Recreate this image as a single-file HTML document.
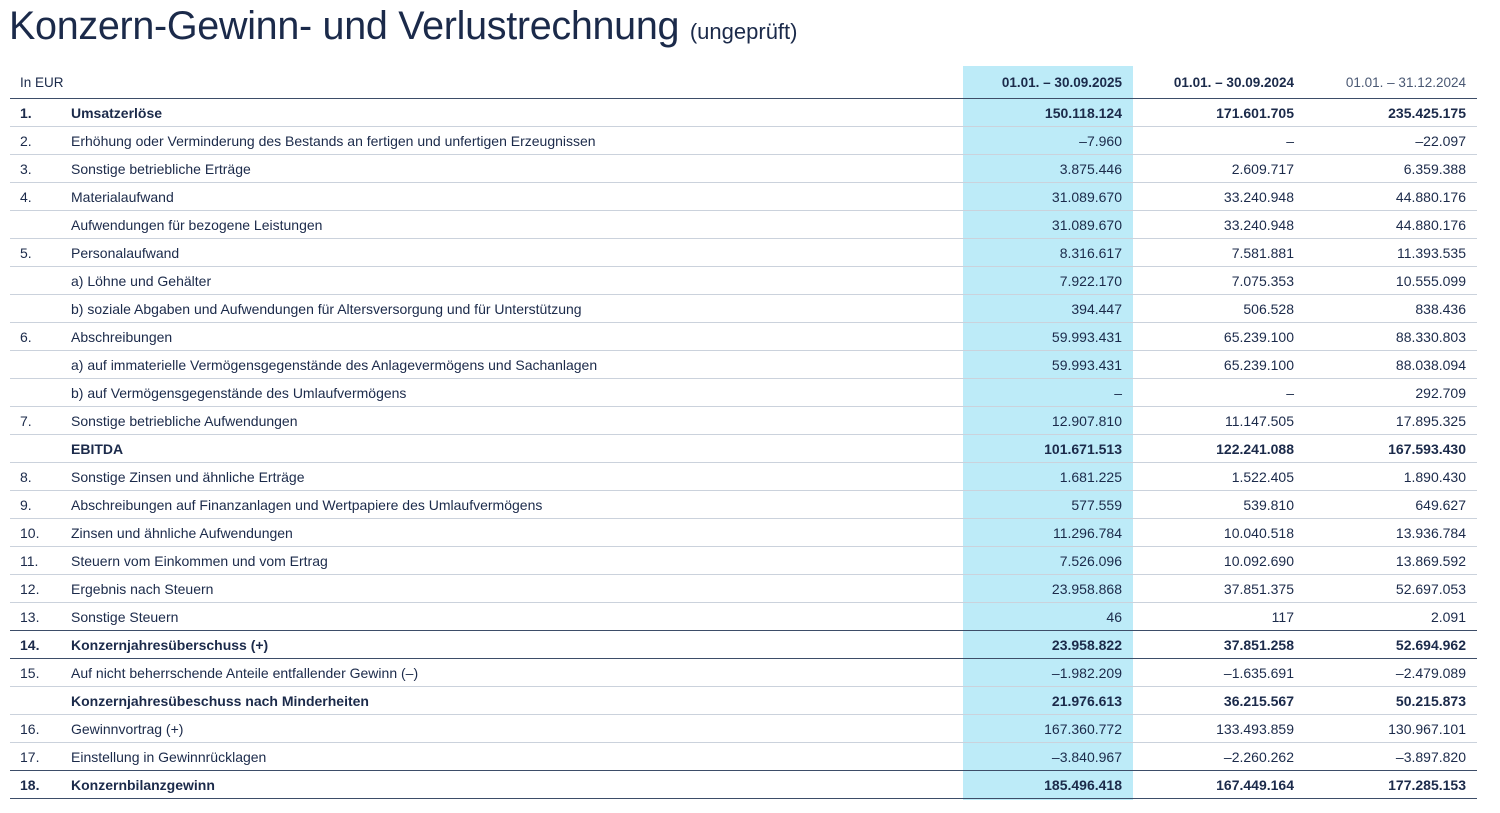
<!DOCTYPE html>
<html><head><meta charset="utf-8"><style>
body{margin:0;background:#fff;width:1500px;height:813px;overflow:hidden;font-family:"Liberation Sans",sans-serif;color:#1b2a4a}
.t{position:absolute;left:9px;top:4px;font-size:39.5px;white-space:nowrap;letter-spacing:-0.3px}
.t span{font-size:22px;letter-spacing:0}
.hl{position:absolute;left:963px;top:66px;width:170px;height:734px;background:#bdebf8}
table{position:absolute;left:10px;top:66px;width:1467px;border-collapse:collapse;font-size:14px;table-layout:fixed}
td{height:27px;border-bottom:1px solid #cbd2dc;padding:0;white-space:nowrap}
td.n{padding-left:10px}
td.v{text-align:right;padding-right:11px}
tr.h td{height:32px;border-bottom:1.5px solid #3d4d68;font-size:13.5px}
tr.b td{font-weight:bold}
tr.d td{border-bottom:1.5px solid #3d4d68}
</style></head><body>
<div class="t">Konzern-Gewinn- und Verlustrechnung <span>(ungeprüft)</span></div>
<div class="hl"></div>
<table>
<colgroup><col style="width:61px"><col style="width:892px"><col style="width:170px"><col style="width:172px"><col style="width:172px"></colgroup>
<tr class="h"><td class="n">In EUR</td><td></td><td class="v" style="font-weight:bold">01.01. – 30.09.2025</td><td class="v" style="font-weight:bold">01.01. – 30.09.2024</td><td class="v" style="color:#4a5873">01.01. – 31.12.2024</td></tr>
<tr class="b"><td class="n">1.</td><td>Umsatzerlöse</td><td class="v">150.118.124</td><td class="v">171.601.705</td><td class="v">235.425.175</td></tr>
<tr><td class="n">2.</td><td>Erhöhung oder Verminderung des Bestands an fertigen und unfertigen Erzeugnissen</td><td class="v">–7.960</td><td class="v">–</td><td class="v">–22.097</td></tr>
<tr><td class="n">3.</td><td>Sonstige betriebliche Erträge</td><td class="v">3.875.446</td><td class="v">2.609.717</td><td class="v">6.359.388</td></tr>
<tr><td class="n">4.</td><td>Materialaufwand</td><td class="v">31.089.670</td><td class="v">33.240.948</td><td class="v">44.880.176</td></tr>
<tr><td class="n"></td><td>Aufwendungen für bezogene Leistungen</td><td class="v">31.089.670</td><td class="v">33.240.948</td><td class="v">44.880.176</td></tr>
<tr><td class="n">5.</td><td>Personalaufwand</td><td class="v">8.316.617</td><td class="v">7.581.881</td><td class="v">11.393.535</td></tr>
<tr><td class="n"></td><td>a) Löhne und Gehälter</td><td class="v">7.922.170</td><td class="v">7.075.353</td><td class="v">10.555.099</td></tr>
<tr><td class="n"></td><td>b) soziale Abgaben und Aufwendungen für Altersversorgung und für Unterstützung</td><td class="v">394.447</td><td class="v">506.528</td><td class="v">838.436</td></tr>
<tr><td class="n">6.</td><td>Abschreibungen</td><td class="v">59.993.431</td><td class="v">65.239.100</td><td class="v">88.330.803</td></tr>
<tr><td class="n"></td><td>a) auf immaterielle Vermögensgegenstände des Anlagevermögens und Sachanlagen</td><td class="v">59.993.431</td><td class="v">65.239.100</td><td class="v">88.038.094</td></tr>
<tr><td class="n"></td><td>b) auf Vermögensgegenstände des Umlaufvermögens</td><td class="v">–</td><td class="v">–</td><td class="v">292.709</td></tr>
<tr><td class="n">7.</td><td>Sonstige betriebliche Aufwendungen</td><td class="v">12.907.810</td><td class="v">11.147.505</td><td class="v">17.895.325</td></tr>
<tr class="b"><td class="n"></td><td>EBITDA</td><td class="v">101.671.513</td><td class="v">122.241.088</td><td class="v">167.593.430</td></tr>
<tr><td class="n">8.</td><td>Sonstige Zinsen und ähnliche Erträge</td><td class="v">1.681.225</td><td class="v">1.522.405</td><td class="v">1.890.430</td></tr>
<tr><td class="n">9.</td><td>Abschreibungen auf Finanzanlagen und Wertpapiere des Umlaufvermögens</td><td class="v">577.559</td><td class="v">539.810</td><td class="v">649.627</td></tr>
<tr><td class="n">10.</td><td>Zinsen und ähnliche Aufwendungen</td><td class="v">11.296.784</td><td class="v">10.040.518</td><td class="v">13.936.784</td></tr>
<tr><td class="n">11.</td><td>Steuern vom Einkommen und vom Ertrag</td><td class="v">7.526.096</td><td class="v">10.092.690</td><td class="v">13.869.592</td></tr>
<tr><td class="n">12.</td><td>Ergebnis nach Steuern</td><td class="v">23.958.868</td><td class="v">37.851.375</td><td class="v">52.697.053</td></tr>
<tr class="d"><td class="n">13.</td><td>Sonstige Steuern</td><td class="v">46</td><td class="v">117</td><td class="v">2.091</td></tr>
<tr class="b d"><td class="n">14.</td><td>Konzernjahresüberschuss (+)</td><td class="v">23.958.822</td><td class="v">37.851.258</td><td class="v">52.694.962</td></tr>
<tr><td class="n">15.</td><td>Auf nicht beherrschende Anteile entfallender Gewinn (–)</td><td class="v">–1.982.209</td><td class="v">–1.635.691</td><td class="v">–2.479.089</td></tr>
<tr class="b"><td class="n"></td><td>Konzernjahresübeschuss nach Minderheiten</td><td class="v">21.976.613</td><td class="v">36.215.567</td><td class="v">50.215.873</td></tr>
<tr><td class="n">16.</td><td>Gewinnvortrag (+)</td><td class="v">167.360.772</td><td class="v">133.493.859</td><td class="v">130.967.101</td></tr>
<tr class="d"><td class="n">17.</td><td>Einstellung in Gewinnrücklagen</td><td class="v">–3.840.967</td><td class="v">–2.260.262</td><td class="v">–3.897.820</td></tr>
<tr class="b d"><td class="n">18.</td><td>Konzernbilanzgewinn</td><td class="v">185.496.418</td><td class="v">167.449.164</td><td class="v">177.285.153</td></tr>
</table>
</body></html>
